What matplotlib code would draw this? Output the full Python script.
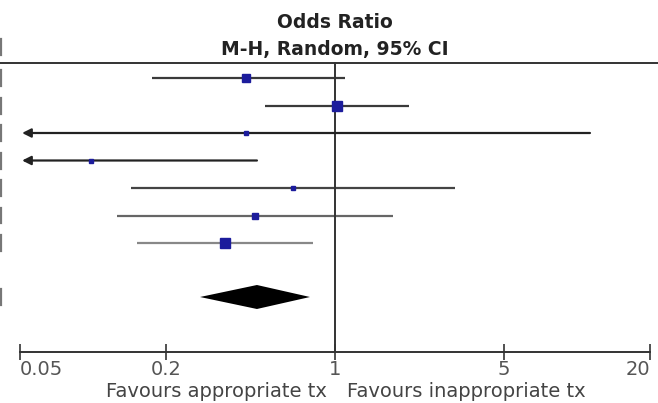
import numpy as np
import matplotlib.pyplot as plt
from matplotlib.lines import Line2D

# study rows (odds ratio, 95% CI)
study_or = [0.43, 1.02, 0.43, 0.098, 0.67, 0.467, 0.351]
ci_low = [0.175, 0.514, 0.016, 0.02, 0.144, 0.126, 0.152]
ci_high = [1.10, 2.02, 11.3, 0.476, 3.13, 1.74, 0.811]
weights = [17.5, 27.0, 2.5, 6.5, 6.5, 10.0, 22.0]
line_cols = ['#3a3a3a', '#3a3a3a', '#2a2a2a', '#3a3a3a', '#444444', '#666666', '#888888']

# pooled estimate
pooled_or = 0.476
pooled_low = 0.277
pooled_high = 0.788

xticks = [0.05, 0.2, 1, 5, 20]
xtick_labels = ['0.05', '0.2', '1', '5', '20']
xmin, xmax = 0.05, 20

W, H = 658, 403
fig = plt.figure(figsize=(W / 100, H / 100), dpi=100)
# axes uses pixel units vertically
ax = fig.add_axes([20 / W, 0, 630 / W, 1])
ax.set_xscale('log')
ax.set_xlim(xmin, xmax)
ax.set_ylim(H, 0)
for s in ['top', 'left', 'right']:
    ax.spines[s].set_visible(False)

row_y = [78 + 27.5 * i for i in range(len(study_or))]
diamond_y = 297
axis_y = 352
header_y = 63

# studies
for i in range(len(study_or)):
    y = row_y[i]
    lo = ci_low[i]
    if lo < xmin:
        ax.annotate('', xy=(xmin * 1.02, y), xytext=(ci_high[i], y),
                    arrowprops=dict(arrowstyle='-|>', color='#222222', lw=1.6,
                                    mutation_scale=13, shrinkA=0, shrinkB=0))
    else:
        ax.plot([lo, ci_high[i]], [y, y], color=line_cols[i], lw=1.6,
                solid_capstyle='butt')
    side = 1.92 * np.sqrt(weights[i]) / 1.389
    ax.plot(study_or[i], y, marker='s', ms=side, color='#1c1c9c',
            mec='#1c1c9c', ls='none', zorder=3)

# pooled diamond
ax.fill([pooled_low, pooled_or, pooled_high, pooled_or],
        [diamond_y, diamond_y - 12, diamond_y, diamond_y + 12],
        color='black', lw=0)

# line of no effect
ax.plot([1, 1], [header_y, axis_y], color='#333333', lw=1.4)

# bottom axis
ax.spines['bottom'].set_position(('data', axis_y))
ax.spines['bottom'].set_color('#333333')
ax.spines['bottom'].set_linewidth(1.4)
ax.set_xticks(xticks)
ax.set_xticklabels(xtick_labels)
ax.xaxis.set_minor_locator(plt.NullLocator())
ax.tick_params(axis='x', direction='inout', length=12, width=1.2,
               color='#333333', labelsize=14, labelcolor='#555555', pad=0)
ax.set_yticks([])
labs = ax.get_xticklabels()
labs[0].set_ha('left')
labs[-1].set_ha('right')

# header
fig.add_artist(Line2D([0, 1], [1 - header_y / H] * 2, transform=fig.transFigure,
                      color='#333333', lw=1.4))
fig.text(335 / W, 1 - 22 / H, 'Odds Ratio', ha='center', va='center',
         fontsize=13.5, fontweight='bold', color='#222222')
fig.text(335 / W, 1 - 49 / H, 'M-H, Random, 95% CI', ha='center', va='center',
         fontsize=13.5, fontweight='bold', color='#222222')

# favours labels
fig.text(327 / W, 1 - 397 / H, 'Favours appropriate tx', ha='right', va='baseline',
         fontsize=14, color='#444444')
fig.text(347 / W, 1 - 397 / H, 'Favours inappropriate tx', ha='left', va='baseline',
         fontsize=14, color='#444444')

# cut-off edges of the table column beside the plot
for y in [47] + row_y + [diamond_y]:
    fig.add_artist(Line2D([1 / W, 1 / W], [1 - (y - 8) / H, 1 - (y + 8) / H],
                          transform=fig.transFigure, color='#777777', lw=1.6))

fig.savefig('out.png', dpi=100)
